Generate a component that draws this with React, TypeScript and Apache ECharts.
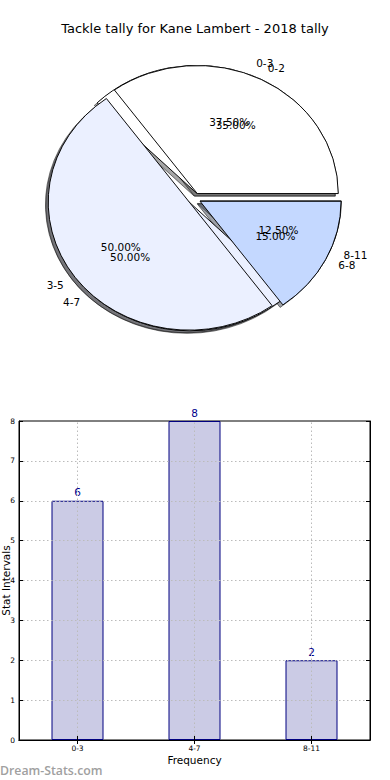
import React, { useEffect, useRef } from 'react';
import * as echarts from 'echarts';

const chartTitle = 'Tackle tally for Kane Lambert - 2018 tally';
const pieALabels = ['0-3', '4-7', '8-11'];
const pieAValues = [37.5, 50, 12.5];
const pieBLabels = ['0-2', '3-5', '6-8'];
const pieBValues = [35, 50, 15];
const sliceColors = ['#ffffff', '#ebf0ff', '#c4d8ff'];
const barCategories = ['0-3', '4-7', '8-11'];
const barValues = [6, 8, 2];
const yMin = 0;
const yMax = 8;
const yStep = 1;

const CX = 194.4;
const CY = 198.7;
const RX = 141;
const RY = 128;
const EXPLODE = 0.045;
const FONT = '"DejaVu Sans", sans-serif';

function sliceGeom(values: number[], i: number) {
  const total = values.reduce((a, b) => a + b, 0);
  let start = 0;
  for (let j = 0; j < i; j++) start += values[j];
  const t1 = (start / total) * Math.PI * 2;
  const t2 = ((start + values[i]) / total) * Math.PI * 2;
  return { t1, t2, tm: (t1 + t2) / 2, total };
}

function shadowColor(hex: string) {
  const r = parseInt(hex.slice(1, 3), 16) * 0.3;
  const g = parseInt(hex.slice(3, 5), 16) * 0.3;
  const b = parseInt(hex.slice(5, 7), 16) * 0.3;
  return `rgba(${Math.round(r)},${Math.round(g)},${Math.round(b)},0.5)`;
}

function makePie(kind: 'shadow' | 'wedge' | 'text', values: number[], labels: string[], z: number) {
  return {
    type: 'custom',
    coordinateSystem: 'none',
    z,
    silent: true,
    data: values,
    renderItem: (params: any) => {
      const i = params.dataIndex;
      const { t1, t2, tm, total } = sliceGeom(values, i);
      const ux = Math.cos(tm);
      const uy = -Math.sin(tm);
      if (kind === 'text') {
        const lx = CX + (EXPLODE + 1.1) * RX * ux;
        const ly = CY + (EXPLODE + 1.1) * RY * uy;
        const px = CX + (EXPLODE + 0.6) * RX * ux;
        const py = CY + (EXPLODE + 0.6) * RY * uy;
        const pct = ((values[i] / total) * 100).toFixed(2) + '%';
        const al = ux > 0 ? 'left' : 'right';
        return {
          type: 'group',
          children: [
            {
              type: 'text',
              x: lx,
              y: ly,
              style: { text: labels[i], fill: '#000', font: `10.5px ${FONT}`, align: al, verticalAlign: 'middle', textAlign: al, textVerticalAlign: 'middle' },
            },
            {
              type: 'text',
              x: px,
              y: py,
              style: { text: pct, fill: '#000', font: `10.5px ${FONT}`, align: 'center', verticalAlign: 'middle', textAlign: 'center', textVerticalAlign: 'middle' },
            },
          ],
        };
      }
      const isShadow = kind === 'shadow';
      const ox = CX + EXPLODE * RX * ux + (isShadow ? -0.02 * RX : 0);
      const oy = CY + EXPLODE * RY * uy + (isShadow ? 0.02 * RY : 0);
      const col = sliceColors[i % sliceColors.length];
      const style = isShadow
        ? { fill: shadowColor(col), stroke: shadowColor('#000000'), lineWidth: 1 }
        : { fill: col, stroke: '#000', lineWidth: 1 };
      return {
        type: 'group',
        x: ox,
        y: oy,
        scaleX: 1,
        scaleY: RY / RX,
        children: [
          {
            type: 'sector',
            shape: { cx: 0, cy: 0, r: RX, r0: 0, startAngle: -t2, endAngle: -t1, clockwise: true },
            style,
          },
        ],
      };
    },
  };
}

export default function App() {
  const ref = useRef<HTMLDivElement>(null);
  useEffect(() => {
    document.body.style.margin = '0';
    const chart = echarts.init(ref.current!, null, { renderer: 'svg' });
    const gridColor = '#bbbbbb';
    chart.setOption({
      animation: false,
      backgroundColor: '#ffffff',
      title: {
        text: chartTitle,
        left: 'center',
        top: 22,
        padding: 0,
        textStyle: { fontFamily: FONT, fontSize: 13, fontWeight: 'normal', color: '#000' },
      },
      grid: {
        left: 19,
        right: 20,
        top: 421,
        bottom: 40,
        containLabel: false,
        outerBoundsMode: 'none',
        show: true,
        borderColor: '#000',
        borderWidth: 1,
        backgroundColor: 'transparent',
      },
      xAxis: [
        {
          type: 'category',
          data: barCategories,
          boundaryGap: true,
          z: 6,
          axisLine: { show: true, lineStyle: { color: '#000', width: 1 } },
          axisTick: { show: true, inside: true, length: 4, alignWithLabel: true, lineStyle: { color: '#000' } },
          axisLabel: { fontFamily: FONT, fontSize: 7.5, color: '#000', margin: 4 },
          splitLine: { show: false },
          name: 'Frequency',
          nameLocation: 'middle',
          nameGap: 14,
          nameMoveOverlap: false,
          nameTextStyle: { fontFamily: FONT, fontSize: 10.5, color: '#000' },
        },
        {
          type: 'category',
          data: barCategories,
          position: 'top',
          boundaryGap: true,
          z: 6,
          axisLine: { show: true, lineStyle: { color: '#000', width: 1 } },
          axisTick: { show: true, inside: true, length: 4, alignWithLabel: true, lineStyle: { color: '#000' } },
          axisLabel: { show: false },
          splitLine: { show: false },
        },
      ],
      yAxis: [
        {
          type: 'value',
          min: yMin,
          max: yMax,
          interval: yStep,
          z: 5,
          axisLine: { show: true, lineStyle: { color: '#000', width: 1 } },
          axisTick: { show: true, inside: true, length: 4, lineStyle: { color: '#000' } },
          axisLabel: { fontFamily: FONT, fontSize: 7.5, color: '#000', margin: 4 },
          splitLine: { show: true, showMinLine: false, showMaxLine: false, lineStyle: { color: gridColor, type: [1.5, 2.5], width: 1 } },
          name: 'Stat Intervals',
          nameLocation: 'middle',
          nameGap: 8,
          nameMoveOverlap: false,
          nameTextStyle: { fontFamily: FONT, fontSize: 10.5, color: '#000' },
        },
        {
          type: 'value',
          min: yMin,
          max: yMax,
          interval: yStep,
          position: 'right',
          z: 6,
          axisLine: { show: true, lineStyle: { color: '#000', width: 1 } },
          axisTick: { show: true, inside: true, length: 4, lineStyle: { color: '#000' } },
          axisLabel: { show: false },
          splitLine: { show: false },
        },
      ],
      graphic: [
        {
          type: 'text',
          left: 0,
          top: 764,
          style: { text: 'Dream-Stats.com', fill: '#a0a0a0', font: '600 12.3px "Open Sans", sans-serif' },
        },
      ],
      series: [
        makePie('shadow', pieAValues, pieALabels, 1),
        makePie('shadow', pieBValues, pieBLabels, 1),
        makePie('wedge', pieAValues, pieALabels, 2),
        makePie('wedge', pieBValues, pieBLabels, 3),
        makePie('text', pieAValues, pieALabels, 4),
        makePie('text', pieBValues, pieBLabels, 4),
        {
          type: 'bar',
          xAxisIndex: 0,
          yAxisIndex: 0,
          data: barValues,
          barWidth: 52,
          z: 2,
          itemStyle: { color: '#cbcbe5', borderColor: '#000080', borderWidth: 1 },
          label: { show: true, position: 'top', distance: 3, color: '#00008b', fontFamily: FONT, fontSize: 10.5 },
          markLine: {
            silent: true,
            symbol: ['none', 'none'],
            label: { show: false },
            lineStyle: { color: gridColor, type: [1.5, 2.5], width: 1 },
            data: barCategories.map((c) => ({ xAxis: c })),
          },
        },
      ],
    });
    return () => chart.dispose();
  }, []);
  return <div ref={ref} style={{ width: 390, height: 780 }} />;
}
